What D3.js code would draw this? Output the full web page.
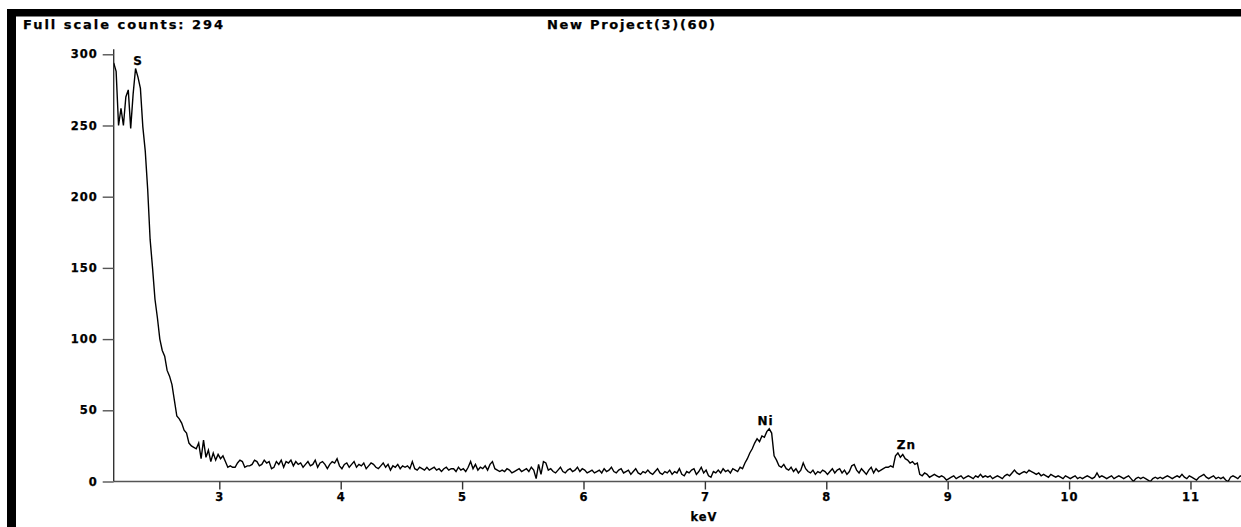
<!DOCTYPE html>
<html>
<head>
<meta charset="utf-8">
<script src="https://cdn.jsdelivr.net/npm/d3@7"></script>
<style>
  html, body { margin: 0; padding: 0; background: #fff; }
  svg { display: block; }
  text { font-family: "DejaVu Sans", "Liberation Sans", Arial, sans-serif; font-weight: bold; fill: #000; stroke: #000; stroke-width: 0.25px; }
</style>
</head>
<body>
<svg id="chart" width="1241" height="527"></svg>
<script>
// EDS spectrum: counts per 20 eV channel, starting at 2.13 keV
const channelStart = 2.13;
const channelWidth = 0.02;
const counts = [
  294, 288, 250, 262, 250, 270, 275, 248, 272, 290,
  284, 276, 249, 232, 205, 170, 150, 128, 115, 100,
  92, 88, 78, 74, 68, 57, 46, 44, 41, 36,
  34, 27, 25, 24, 23, 27, 16, 29, 17, 22,
  14, 20, 15, 19, 16, 18, 14, 10, 11, 10,
  10, 13, 15, 14, 10, 11, 11, 12, 15, 14,
  11, 12, 15, 13, 14, 9, 10, 14, 12, 15,
  10, 14, 13, 15, 11, 14, 12, 13, 10, 12,
  14, 11, 12, 15, 10, 13, 14, 12, 9, 12,
  14, 13, 16, 11, 9, 12, 13, 10, 12, 14,
  10, 12, 11, 13, 9, 11, 13, 12, 10, 9,
  11, 13, 10, 12, 8, 11, 10, 12, 9, 11,
  10, 11, 9, 14, 9, 8, 10, 9, 8, 10,
  8, 9, 10, 8, 9, 7, 9, 10, 8, 9,
  9, 7, 10, 8, 9, 7, 10, 14, 9, 12,
  8, 10, 9, 11, 8, 12, 14, 9, 8, 7,
  8, 7, 9, 8, 6, 7, 8, 9, 7, 8,
  9, 7, 10, 8, 2, 12, 5, 14, 13, 8,
  9, 7, 6, 8, 10, 7, 6, 8, 9, 7,
  8, 10, 7, 9, 8, 6, 7, 8, 6, 7,
  8, 6, 9, 7, 8, 10, 7, 6, 8, 9,
  6, 7, 8, 5, 7, 9, 6, 5, 7, 6,
  8, 6, 5, 7, 9, 6, 5, 7, 6, 8,
  5, 7, 6, 9, 5, 4, 7, 6, 8, 9,
  5, 7, 10, 6, 8, 4, 3, 7, 6, 8,
  6, 9, 7, 8, 6, 9, 8, 7, 10, 9,
  13, 16, 20, 23, 27, 30, 28, 32, 31, 35,
  37, 34, 18, 15, 11, 10, 12, 9, 8, 10,
  7, 9, 6, 8, 13, 9, 7, 6, 8, 5,
  7, 6, 8, 7, 5, 7, 9, 6, 8, 9,
  6, 8, 5, 7, 11, 12, 8, 6, 9, 7,
  5, 8, 10, 6, 9, 7, 8, 9, 10, 10,
  11, 10, 18, 20, 17, 19, 16, 15, 13, 14,
  12, 13, 5, 4, 6, 5, 3, 4, 5, 4,
  3, 4, 3, 1, 2, 3, 4, 2, 3, 4,
  2, 3, 4, 3, 2, 4, 3, 5, 3, 4,
  3, 4, 2, 3, 4, 3, 2, 4, 5, 4,
  6, 8, 6, 5, 6, 7, 6, 8, 7, 6,
  5, 6, 4, 5, 4, 3, 5, 4, 3, 4,
  3, 2, 4, 3, 2, 3, 4, 2, 3, 2,
  3, 4, 3, 2, 3, 6, 3, 4, 3, 2,
  3, 4, 2, 3, 4, 3, 2, 3, 4, 2,
  0, 2, 3, 2, 3, 2, 1, 0, 2, 3,
  2, 3, 2, 3, 4, 3, 2, 3, 4, 3,
  5, 3, 2, 4, 3, 2, 1, 3, 4, 5,
  3, 2, 3, 4, 2, 3, 2, 3, 1, 0,
  3, 4, 3, 2, 4, 3, 2
];

const xTicks = [3, 4, 5, 6, 7, 8, 9, 10, 11];
const yTicks = [0, 50, 100, 150, 200, 250, 300];

const peakNames = ["S", "Ni", "Zn"];
const peakEnergy = [2.33, 7.50, 8.66];
const peakCounts = [290, 37, 20];

const headerLeft = "Full scale counts: 294";
const headerTitle = "New Project(3)(60)";
const xAxisTitle = "keV";

const svg = d3.select("#chart");
const W = 1241, H = 527;

// window frame: black bars along the top and left edge
svg.append("rect").attr("x", 7).attr("y", 9).attr("width", W - 7).attr("height", 7.5).attr("fill", "#000");
svg.append("rect").attr("x", 7).attr("y", 9).attr("width", 9).attr("height", H - 9).attr("fill", "#000");

// header texts
svg.append("text")
  .attr("x", 23).attr("y", 29)
  .attr("font-size", 13)
  .attr("textLength", 200).attr("lengthAdjust", "spacing")
  .text(headerLeft);
svg.append("text")
  .attr("x", 547).attr("y", 29)
  .attr("font-size", 13)
  .attr("textLength", 168).attr("lengthAdjust", "spacing")
  .text(headerTitle);

const x = d3.scaleLinear().domain([2.13, 11.45]).range([113.7, 1245.1]);
const y = d3.scaleLinear().domain([0, 303.5]).range([481.5, 49.3]);

const data = counts.map((c, i) => ({ e: channelStart + i * channelWidth, c }));

// x axis
const gx = svg.append("g").attr("transform", `translate(0,${y(0)})`)
  .call(d3.axisBottom(x).tickValues(xTicks).tickSize(8).tickPadding(3).tickFormat(d3.format("d")));
gx.select(".domain").attr("d", `M${x.range()[0]},0H${W}`).attr("stroke", "#555").attr("stroke-width", 1.4);
gx.selectAll(".tick line").attr("stroke", "#333").attr("stroke-width", 1.4);
gx.selectAll(".tick text").attr("font-size", 11.5).attr("font-family", null).attr("fill", "#000")
  .attr("letter-spacing", 1);

// y axis
const gy = svg.append("g").attr("transform", `translate(${x.range()[0]},0)`)
  .call(d3.axisLeft(y).tickValues(yTicks).tickSize(11).tickPadding(5));
gy.select(".domain").attr("d", `M0,${y.range()[1]}V${y(0)}`).attr("stroke", "#333").attr("stroke-width", 1.4);
gy.selectAll(".tick line").attr("stroke", "#555").attr("stroke-width", 1.4);
gy.selectAll(".tick text").attr("font-size", 11.5).attr("font-family", null).attr("fill", "#000")
  .attr("letter-spacing", 1);

// axis title
svg.append("text")
  .attr("x", 704).attr("y", 521)
  .attr("text-anchor", "middle")
  .attr("font-size", 11.5)
  .attr("letter-spacing", 1)
  .text(xAxisTitle);

// spectrum trace
svg.append("clipPath").attr("id", "plotClip")
  .append("rect").attr("x", x.range()[0]).attr("y", 40).attr("width", W - x.range()[0]).attr("height", y(0) - 40);

svg.append("path")
  .datum(data)
  .attr("clip-path", "url(#plotClip)")
  .attr("fill", "none")
  .attr("stroke", "#000")
  .attr("stroke-width", 1.4)
  .attr("stroke-linejoin", "miter")
  .attr("d", d3.line().x(d => x(d.e)).y(d => y(d.c)));

// element labels over the peaks
svg.append("g").selectAll("text")
  .data(peakNames)
  .join("text")
  .attr("x", (d, i) => x(peakEnergy[i]))
  .attr("y", (d, i) => y(peakCounts[i]) - 4)
  .attr("text-anchor", "middle")
  .attr("font-size", 12)
  .attr("letter-spacing", 1)
  .text(d => d);
</script>
</body>
</html>
